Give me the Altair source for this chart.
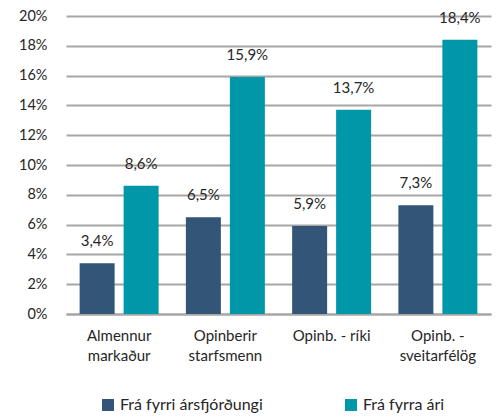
import altair as alt
import pandas as pd

categories = ["Almennur|markaður", "Opinberir|starfsmenn", "Opinb. - ríki", "Opinb. -|sveitarfélög"]
series = ["Frá fyrri ársfjórðungi", "Frá fyrra ári"]
q_values = [3.4, 6.5, 5.9, 7.3]
y_values = [8.6, 15.9, 13.7, 18.4]
colors = ["#335577", "#0097A9"]
y_ticks = [0, 2, 4, 6, 8, 10, 12, 14, 16, 18, 20]

rows = []
for c, a, b in zip(categories, q_values, y_values):
    rows.append({"cat": c, "series": series[0], "v": a, "label": f"{a:.1f}%".replace(".", ",")})
    rows.append({"cat": c, "series": series[1], "v": b, "label": f"{b:.1f}%".replace(".", ",")})
df = pd.DataFrame(rows)

FONT = "Lato"
TXT = "#262626"

x = alt.X("cat:N", sort=categories, title=None,
          scale=alt.Scale(paddingInner=0, paddingOuter=0),
          axis=alt.Axis(labelExpr="split(datum.label, '|')", labelAngle=0,
                        labelFont=FONT, labelFontSize=15, labelColor=TXT,
                        labelLineHeight=20, labelPadding=14, ticks=False,
                        domain=True, domainColor="#a6a6a6", domainWidth=2,
                        labelLimit=200))
xo = alt.XOffset("series:N", sort=series,
                 scale=alt.Scale(paddingInner=0.2045, paddingOuter=0.31))
y = alt.Y("v:Q", title=None,
          scale=alt.Scale(domain=[0, 20], nice=False),
          axis=alt.Axis(values=y_ticks, labelExpr="datum.value + '%'",
                        labelFont=FONT, labelFontSize=14.5, labelColor=TXT,
                        labelPadding=19, ticks=False, domain=False,
                        grid=True, gridColor="#a6a6a6", gridWidth=2))

base = alt.Chart(df)
bars = base.mark_bar().encode(
    x=x, xOffset=xo, y=y,
    color=alt.Color("series:N", sort=series,
                    scale=alt.Scale(domain=series, range=colors),
                    legend=alt.Legend(title=None, orient="none", direction="horizontal",
                                      legendX=34, legendY=381,
                                      symbolType="square", symbolSize=144,
                                      symbolStrokeWidth=0,
                                      labelFont=FONT, labelFontSize=16, labelColor=TXT,
                                      labelOffset=4, columnPadding=80)),
)
text = base.mark_text(font=FONT, fontSize=15, color=TXT, baseline="middle", dy=-22).encode(
    x=x, xOffset=xo, y=y, text="label:N"
)

chart = (bars + text).properties(
    width=425, height=298,
    autosize=alt.AutoSizeParams(type="none"),
    padding={"left": 58, "top": 8, "right": 3, "bottom": 103},
).configure_view(stroke=None)

chart.save("out.html", embed_options={"renderer": "svg", "actions": False})
